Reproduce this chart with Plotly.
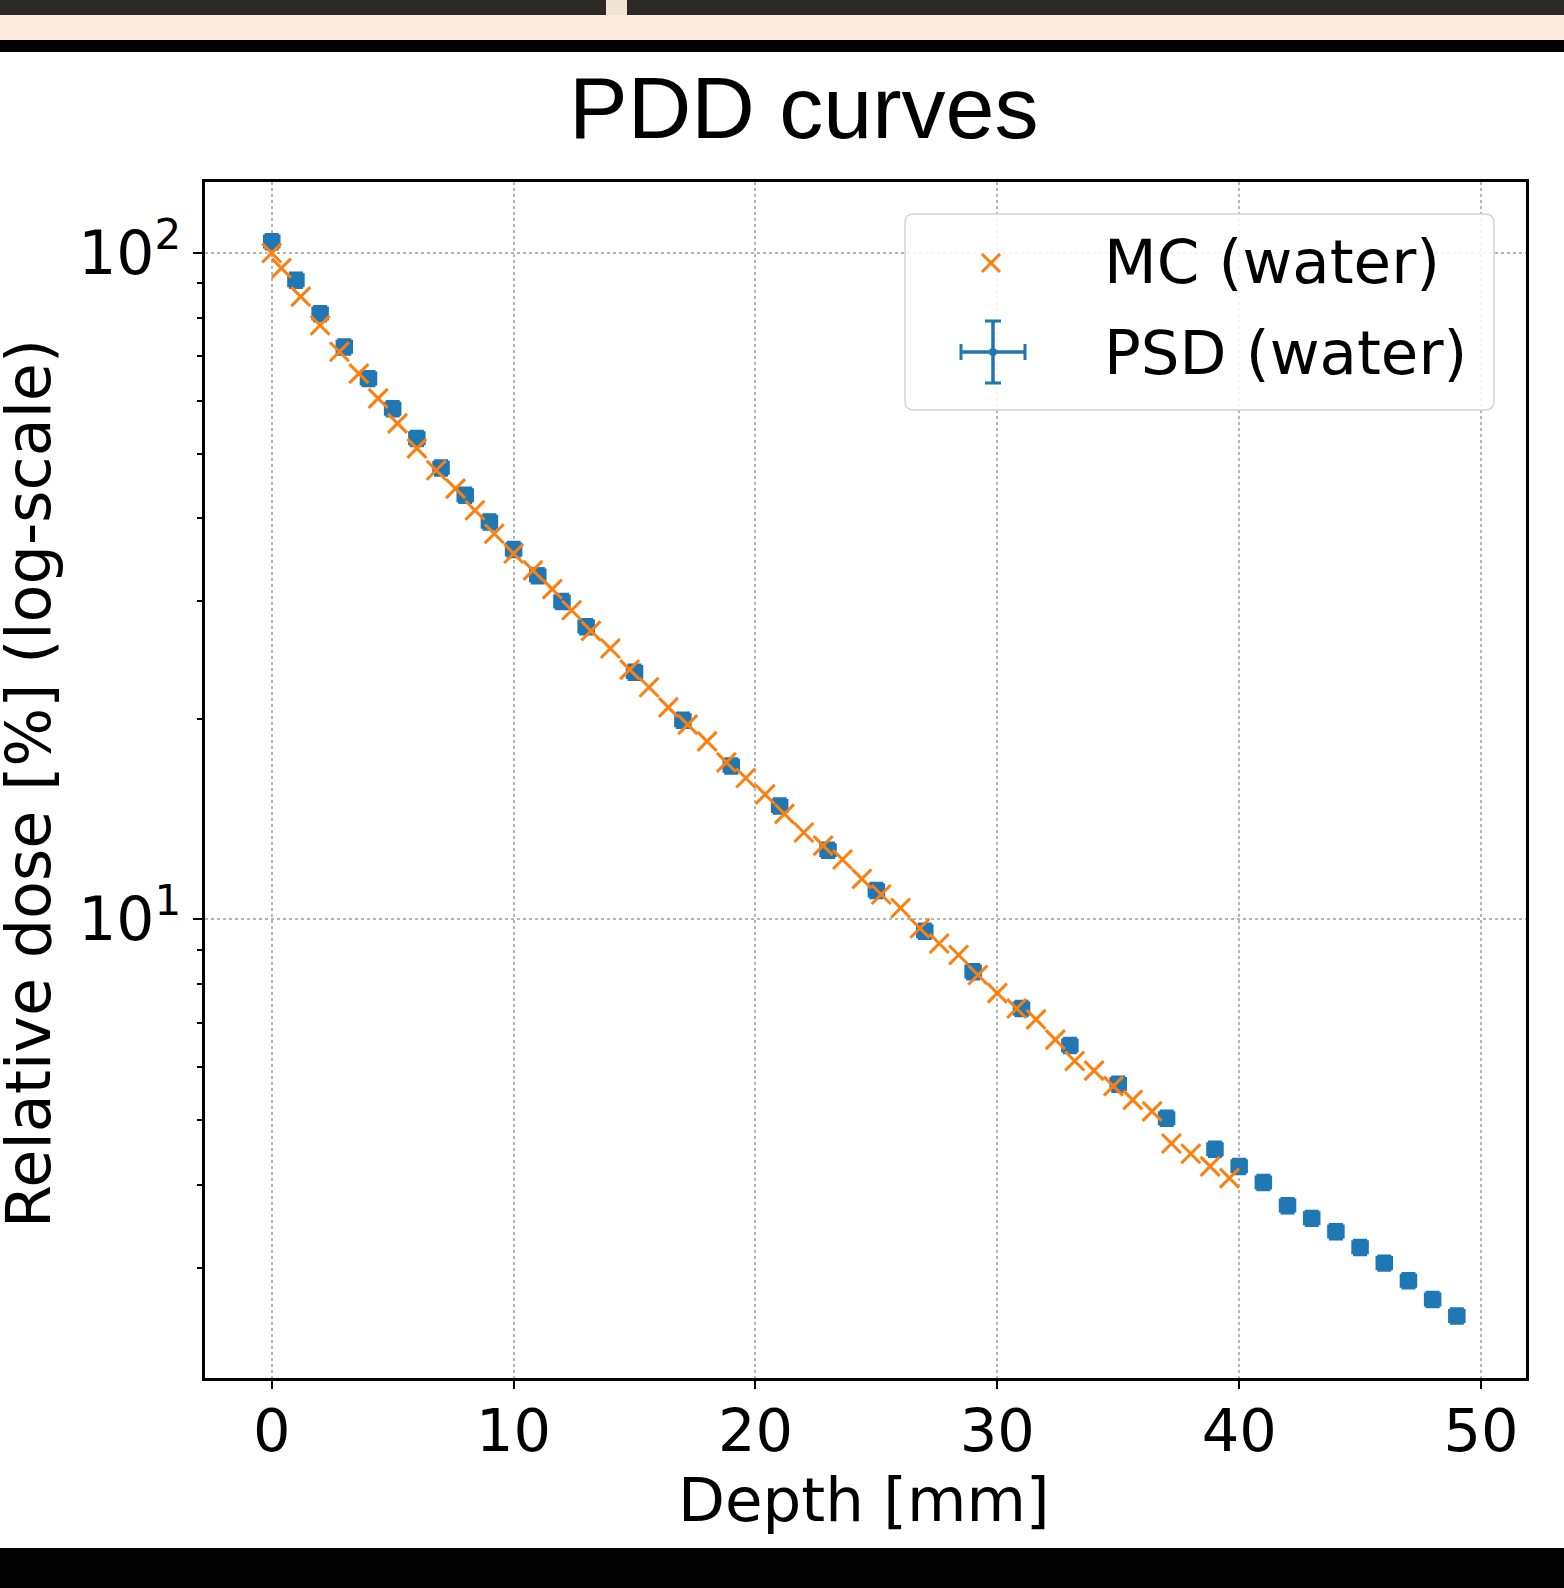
import plotly.graph_objects as go

# ---------------- data ----------------
mc_depth = [0.0, 0.4, 1.2, 2.0, 2.8, 3.6, 4.4, 5.2, 6.0, 6.8, 7.6, 8.4, 9.2, 10.0,
            10.8, 11.6, 12.4, 13.2, 14.0, 14.8, 15.6, 16.4, 17.2, 18.0, 18.8, 19.6,
            20.4, 21.2, 22.0, 22.8, 23.6, 24.4, 25.2, 26.0, 26.8, 27.6, 28.4, 29.2,
            30.0, 30.8, 31.6, 32.4, 33.2, 34.0, 34.8, 35.6, 36.4, 37.2, 38.0, 38.8, 39.6]
mc_dose = [100.0, 94.9, 86.0, 77.9, 71.1, 65.9, 60.5, 55.5, 50.9, 47.2, 44.3, 41.1, 37.9, 35.4,
           33.4, 31.3, 29.1, 27.1, 25.5, 23.7, 22.3, 20.8, 19.6, 18.5, 17.2, 16.3,
           15.4, 14.4, 13.5, 12.9, 12.3, 11.5, 10.9, 10.4, 9.7, 9.2, 8.84, 8.25,
           7.75, 7.35, 7.08, 6.60, 6.13, 5.93, 5.62, 5.36, 5.15, 4.61, 4.45, 4.26, 4.09]

psd_depth = [0, 1, 2, 3, 4, 5, 6, 7, 8, 9, 10, 11, 12, 13, 15, 17, 19, 21, 23, 25, 27, 29,
             31, 33, 35, 37, 39, 40, 41, 42, 43, 44, 45, 46, 47, 48, 49]
psd_dose = [104.0, 91.0, 81.1, 72.3, 64.8, 58.4, 52.7, 47.6, 43.3, 39.5, 35.9, 32.8, 30.0, 27.5,
            23.5, 19.9, 17.0, 14.8, 12.7, 11.05, 9.6, 8.35, 7.35, 6.47, 5.66, 5.03, 4.52,
            4.26, 4.03, 3.72, 3.56, 3.40, 3.22, 3.05, 2.87, 2.69, 2.54]
psd_depth_err = 0.3      # mm
psd_dose_err_pct = 2.5   # %

x_ticks = [0, 10, 20, 30, 40, 50]
y_ticks = [10, 100]
y_ticktext = ["10<sup>1</sup>", "10<sup>2</sup>"]
y_minor = [3, 4, 5, 6, 7, 8, 9, 20, 30, 40, 50, 60, 70, 80, 90]

title_text = "PDD curves"
x_title = "Depth [mm]"
y_title = "Relative dose [%] (log-scale)"
mc_name = "MC (water)"
psd_name = "PSD (water)"

# ---------------- layout geometry ----------------
W, H = 1564, 1588
L, R, T, B = 205, 1526, 182, 1378

def px(x):
    return (x - L) / (R - L)

def py(y):
    return (B - y) / (B - T)

BLUE = "#1f77b4"
ORANGE = "#ff7f0e"
FONT = "DejaVu Sans"

fig = go.Figure()

fig.add_trace(go.Scatter(
    x=psd_depth, y=psd_dose, mode="markers", name=psd_name, showlegend=False,
    marker=dict(symbol="square", size=13, color=BLUE),
    error_x=dict(type="constant", value=psd_depth_err, thickness=3, width=7, color=BLUE),
    error_y=dict(type="percent", value=psd_dose_err_pct, thickness=3, width=7, color=BLUE),
))
fig.add_trace(go.Scatter(
    x=mc_depth, y=mc_dose, mode="markers", name=mc_name, showlegend=False,
    marker=dict(symbol="x-thin", size=19, color=ORANGE, line=dict(width=3, color=ORANGE)),
))

shapes = []

def rect(x0, y0, x1, y1, color):
    shapes.append(dict(type="rect", xref="paper", yref="paper",
                       x0=px(x0), x1=px(x1), y0=py(y1), y1=py(y0),
                       fillcolor=color, line=dict(width=0), layer="above"))

def seg(x0, y0, x1, y1, color, w):
    shapes.append(dict(type="line", xref="paper", yref="paper",
                       x0=px(x0), x1=px(x1), y0=py(y0), y1=py(y1),
                       line=dict(color=color, width=w), layer="above"))

# page frame bands
rect(0, 0, W, 15, "#2b2826")
rect(606, 0, 627, 15, "#f3e3d4")
rect(0, 15, W, 40, "#fdecdd")
rect(0, 40, W, 52, "#030303")
rect(0, 1548, W, H, "#020202")

# legend box (rounded)
lx0, ly0, lx1, ly1, rr = 905, 214, 1494, 410, 9
def P(x, y):
    return f"{px(x):.6f},{py(y):.6f}"
path = (f"M {P(lx0+rr, ly0)} L {P(lx1-rr, ly0)} Q {P(lx1, ly0)} {P(lx1, ly0+rr)} "
        f"L {P(lx1, ly1-rr)} Q {P(lx1, ly1)} {P(lx1-rr, ly1)} "
        f"L {P(lx0+rr, ly1)} Q {P(lx0, ly1)} {P(lx0, ly1-rr)} "
        f"L {P(lx0, ly0+rr)} Q {P(lx0, ly0)} {P(lx0+rr, ly0)} Z")
shapes.append(dict(type="path", xref="paper", yref="paper", path=path,
                   fillcolor="rgba(255,255,255,0.85)",
                   line=dict(color="#d4d4d4", width=1.5), layer="above"))

# legend symbols
cx, cy, s = 991, 263, 9
seg(cx - s, cy - s, cx + s, cy + s, ORANGE, 3)
seg(cx - s, cy + s, cx + s, cy - s, ORANGE, 3)
cx, cy = 993, 352
seg(961, cy, 1025, cy, BLUE, 3.5)
seg(cx, 321, cx, 383, BLUE, 3.5)
seg(961, cy - 8, 961, cy + 8, BLUE, 3)
seg(1025, cy - 8, 1025, cy + 8, BLUE, 3)
seg(cx - 8, 321, cx + 8, 321, BLUE, 3)
seg(cx - 8, 383, cx + 8, 383, BLUE, 3)
shapes.append(dict(type="circle", xref="paper", yref="paper",
                   x0=px(cx - 4), x1=px(cx + 4), y0=py(cy + 4), y1=py(cy - 4),
                   fillcolor=BLUE, line=dict(width=0), layer="above"))

annotations = [
    dict(text=title_text, xref="paper", yref="paper", x=px(803), y=py(108),
         xanchor="center", yanchor="middle", showarrow=False,
         font=dict(family="Liberation Sans, Arial", size=88, color="black")),
    dict(text=x_title, xref="paper", yref="paper", x=px(864), y=py(1499),
         xanchor="center", yanchor="middle", showarrow=False,
         font=dict(family=FONT, size=61, color="black")),
    dict(text=y_title, xref="paper", yref="paper", x=px(28), y=py(784),
         xanchor="center", yanchor="middle", showarrow=False, textangle=-90,
         font=dict(family=FONT, size=62, color="black")),
    dict(text=mc_name, xref="paper", yref="paper", x=px(1102), y=py(262),
         xanchor="left", yanchor="middle", showarrow=False,
         font=dict(family=FONT, size=61, color="black")),
    dict(text=psd_name, xref="paper", yref="paper", x=px(1102), y=py(352),
         xanchor="left", yanchor="middle", showarrow=False,
         font=dict(family=FONT, size=61, color="black")),
]

fig.update_layout(
    width=W, height=H,
    margin=dict(l=L, r=W - R, t=T, b=H - B, autoexpand=False),
    paper_bgcolor="white", plot_bgcolor="white",
    shapes=shapes, annotations=annotations, showlegend=False,
    xaxis=dict(range=[-2.76, 51.86], tickvals=x_ticks, ticks="outside", ticklen=8,
               tickwidth=2, tickcolor="black", showline=True, mirror=True,
               linecolor="black", linewidth=2.5, showgrid=True, gridcolor="#b5b5b5",
               griddash="dot", gridwidth=1.5, zeroline=False, ticklabelstandoff=-9,
               tickfont=dict(family=FONT, size=59, color="black")),
    yaxis=dict(type="log", range=[0.3118, 2.1065], tickvals=y_ticks, ticktext=y_ticktext,
               ticks="outside", ticklen=9, tickwidth=2, tickcolor="black",
               showline=True, mirror=True, linecolor="black", linewidth=2.5,
               showgrid=True, gridcolor="#b5b5b5", griddash="dot", gridwidth=1.5,
               zeroline=False, tickfont=dict(family=FONT, size=60, color="black"),
               minor=dict(tickvals=y_minor, ticks="outside", ticklen=5,
                          tickwidth=1.5, tickcolor="black", showgrid=False)),
)

fig.write_html("out.html", config={"displayModeBar": False},
               post_script="document.body.style.margin='0';document.body.style.overflow='hidden';")
